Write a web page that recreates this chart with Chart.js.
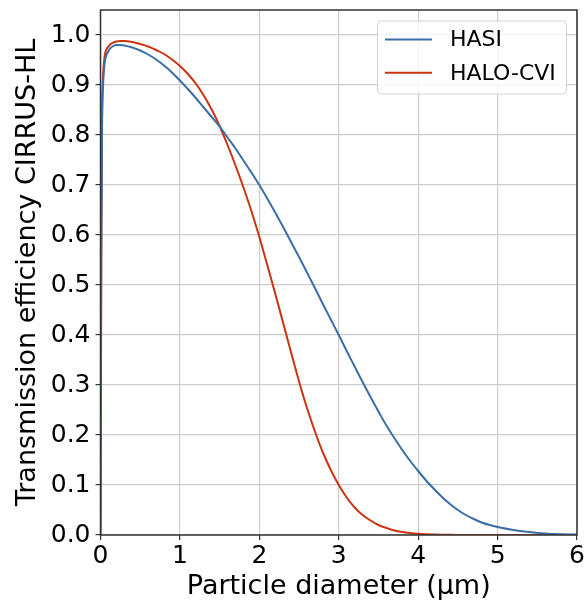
<!DOCTYPE html>
<html>
<head>
<meta charset="utf-8">
<script src="https://cdn.jsdelivr.net/npm/chart.js@4/dist/chart.umd.min.js"></script>
<style>
  html, body { margin: 0; padding: 0; background: #ffffff; }
  #wrap { width: 587px; height: 603px; position: relative; }
</style>
</head>
<body>
<div id="wrap"><canvas id="c" width="587" height="603"></canvas></div>
<script>
// Particle diameter (µm)
const diameters = [0, 0.005, 0.01, 0.02, 0.03, 0.05, 0.1, 0.15, 0.2, 0.25, 0.3,
  0.4, 0.5, 0.6, 0.7, 0.8, 0.9, 1.0, 1.1, 1.2, 1.3,
  1.4, 1.5, 1.6, 1.7, 1.8, 1.9, 2.0, 2.1, 2.2, 2.3,
  2.4, 2.5, 2.6, 2.7, 2.8, 2.9, 3.0, 3.1, 3.2, 3.3,
  3.4, 3.5, 3.6, 3.7, 3.8, 3.9, 4.0, 4.1, 4.2, 4.3,
  4.4, 4.5, 4.6, 4.7, 4.8, 4.9, 5.0,
  5.2, 5.4, 5.6, 5.8, 6.0];
// Transmission efficiency, HASI
const hasi = [0, 0.25, 0.55, 0.82, 0.89, 0.94, 0.968, 0.977, 0.98, 0.98, 0.979,
  0.975, 0.969, 0.961, 0.951, 0.939, 0.925, 0.909, 0.892, 0.874, 0.855,
  0.836, 0.817, 0.795, 0.773, 0.749, 0.725, 0.700, 0.673, 0.645, 0.616,
  0.586, 0.556, 0.525, 0.494, 0.462, 0.431, 0.400, 0.368, 0.337, 0.306,
  0.276, 0.247, 0.219, 0.194, 0.170, 0.148, 0.128, 0.109, 0.092, 0.076,
  0.062, 0.050, 0.040, 0.032, 0.025, 0.020, 0.016,
  0.010, 0.006, 0.003, 0.0015, 0.0008];
// Transmission efficiency, HALO-CVI
const haloCvi = [0, 0.3, 0.6, 0.85, 0.91, 0.955, 0.977, 0.984, 0.987, 0.988, 0.988,
  0.986, 0.982, 0.977, 0.970, 0.962, 0.951, 0.938, 0.922, 0.903, 0.879,
  0.851, 0.818, 0.780, 0.739, 0.695, 0.648, 0.596, 0.540, 0.483, 0.424,
  0.365, 0.307, 0.254, 0.207, 0.165, 0.130, 0.100, 0.075, 0.055, 0.040,
  0.029, 0.020, 0.014, 0.009, 0.006, 0.004, 0.0025, 0.0016, 0.001, 0.0006,
  0.0003, 0.0002, 0.0001, 0, 0, 0, 0,
  0, 0, 0, 0, 0];
const seriesNames = ['HASI', 'HALO-CVI'];
const yTicks = [0, 0.1, 0.2, 0.3, 0.4, 0.5, 0.6, 0.7, 0.8, 0.9, 1.0];
const xTicks = [0, 1, 2, 3, 4, 5, 6];

const BLUE = '#3a6ea5';
const RED = '#cc3311';

const frameAndLegend = {
  id: 'frameAndLegend',
  afterDatasetsDraw(chart) {
    const ctx = chart.ctx;
    const a = chart.chartArea;
    ctx.save();
    // axes frame (all four spines)
    ctx.strokeStyle = '#333333';
    ctx.lineWidth = 1.5;
    ctx.strokeRect(a.left, a.top, a.right - a.left, a.bottom - a.top);
    // legend box
    const bx = 377.5, by = 21, bw = 189, bh = 73, r = 4;
    ctx.beginPath();
    ctx.moveTo(bx + r, by);
    ctx.lineTo(bx + bw - r, by);
    ctx.quadraticCurveTo(bx + bw, by, bx + bw, by + r);
    ctx.lineTo(bx + bw, by + bh - r);
    ctx.quadraticCurveTo(bx + bw, by + bh, bx + bw - r, by + bh);
    ctx.lineTo(bx + r, by + bh);
    ctx.quadraticCurveTo(bx, by + bh, bx, by + bh - r);
    ctx.lineTo(bx, by + r);
    ctx.quadraticCurveTo(bx, by, bx + r, by);
    ctx.closePath();
    ctx.fillStyle = 'rgba(255,255,255,0.8)';
    ctx.fill();
    ctx.strokeStyle = 'rgba(204,204,204,0.9)';
    ctx.lineWidth = 1;
    ctx.stroke();
    const rows = [39.5, 72.8];
    chart.data.datasets.forEach((ds, i) => {
      const y = rows[i];
      ctx.beginPath();
      ctx.strokeStyle = ds.borderColor;
      ctx.lineWidth = 2;
      ctx.moveTo(385, y);
      ctx.lineTo(432, y);
      ctx.stroke();
      ctx.fillStyle = '#000000';
      ctx.font = '22px "DejaVu Sans"';
      ctx.textAlign = 'left';
      ctx.textBaseline = 'middle';
      ctx.fillText(ds.label, 450, y + 1);
    });
    ctx.restore();
  }
};

new Chart(document.getElementById('c'), {
  type: 'line',
  data: {
    datasets: [
      { label: seriesNames[0], data: diameters.map((x, i) => ({ x, y: hasi[i] })),
        borderColor: BLUE, borderWidth: 2, pointRadius: 0, cubicInterpolationMode: 'monotone', fill: false },
      { label: seriesNames[1], data: diameters.map((x, i) => ({ x, y: haloCvi[i] })),
        borderColor: RED, borderWidth: 2, pointRadius: 0, cubicInterpolationMode: 'monotone', fill: false }
    ]
  },
  options: {
    responsive: false,
    animation: false,
    devicePixelRatio: 1,
    layout: { padding: { top: 10, right: 10, left: 0, bottom: 0 } },
    plugins: { legend: { display: false }, tooltip: { enabled: false } },
    scales: {
      x: {
        type: 'linear', min: 0, max: 6,
        afterFit(s) { s.height = 68; s.paddingLeft = 0; s.paddingRight = 0; },
        afterBuildTicks(s) { s.ticks = xTicks.map(v => ({ value: v })); },
        ticks: { color: '#000', font: { family: 'DejaVu Sans', size: 25 }, padding: 1, maxRotation: 0,
          callback: v => String(v) },
        grid: { color: '#cccccc', lineWidth: 1.2, tickLength: 5, tickColor: '#333333', drawTicks: true },
        border: { display: false },
        title: { display: true, text: 'Particle diameter (µm)', color: '#000',
          font: { family: 'DejaVu Sans', size: 27 }, padding: { top: 0, bottom: 0 } }
      },
      y: {
        type: 'linear', min: 0, max: 1.05,
        afterFit(s) { s.width = 100.5; s.paddingTop = 0; s.paddingBottom = 0; },
        afterBuildTicks(s) { s.ticks = yTicks.map(v => ({ value: v })); },
        ticks: { color: '#000', font: { family: 'DejaVu Sans', size: 25 }, padding: 5,
          callback: v => Number(v).toFixed(1) },
        grid: { color: '#cccccc', lineWidth: 1.2, tickLength: 5, tickColor: '#333333', drawTicks: true },
        border: { display: false },
        title: { display: true, text: 'Transmission efficiency CIRRUS-HL', color: '#000',
          font: { family: 'DejaVu Sans', size: 27 }, padding: { top: 12, bottom: 0 } }
      }
    }
  },
  plugins: [frameAndLegend]
});
</script>
</body>
</html>
